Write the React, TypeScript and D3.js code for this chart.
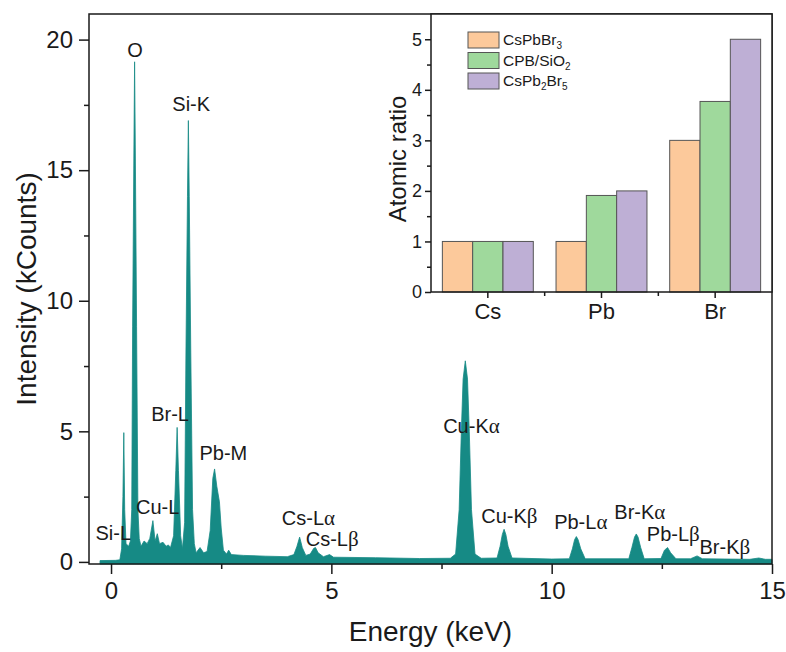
import * as d3 from "d3";
import React, { useEffect, useRef } from "react";

// EDS spectrum (keV, kCounts)
const energy = [
  -0.25, 0.1, 0.2, 0.24, 0.27, 0.29, 0.31, 0.34, 0.4, 0.44, 0.47, 0.49, 0.52,
  0.535, 0.55, 0.58, 0.61, 0.64, 0.68, 0.75, 0.82, 0.88, 0.95, 1.0, 1.05, 1.1,
  1.18, 1.25, 1.3, 1.35, 1.42, 1.47, 1.5, 1.53, 1.58, 1.62, 1.67, 1.7, 1.735,
  1.755, 1.775, 1.81, 1.85, 1.89, 1.93, 2.02, 2.1, 2.18, 2.25, 2.31, 2.35, 2.4,
  2.46, 2.5, 2.55, 2.62, 2.67, 2.73, 3.0, 3.5, 4.0, 4.15, 4.22, 4.28, 4.34,
  4.42, 4.52, 4.6, 4.64, 4.7, 4.82, 4.96, 5.05, 6.0, 7.0, 7.7, 7.82, 7.9, 7.95,
  7.99, 8.04, 8.09, 8.13, 8.18, 8.26, 8.4, 8.76, 8.83, 8.88, 8.92, 8.96, 9.01,
  9.1, 10.0, 10.4, 10.47, 10.52, 10.56, 10.6, 10.66, 10.76, 11.75, 11.82,
  11.88, 11.92, 11.96, 12.02, 12.1, 12.48, 12.56, 12.63, 12.7, 12.82, 13.15,
  13.3, 13.42, 14.5, 14.7, 14.85, 15.0,
];
const counts = [
  0.05, 0.06, 0.08, 0.5, 2.5, 4.95, 2.0, 0.7, 0.6, 0.8, 2.0, 9.0, 16.0, 19.15,
  16.0, 9.0, 2.0, 0.9, 0.6, 0.8, 0.7, 0.9, 1.58, 0.8, 1.08, 0.7, 0.75, 0.6,
  0.65, 0.55, 1.0, 3.5, 5.15, 3.5, 1.0, 0.5, 1.5, 8.0, 14.0, 16.9, 14.0, 8.0,
  2.0, 0.7, 0.35, 0.55, 0.35, 0.4, 1.2, 3.2, 3.56, 2.9, 2.3, 1.3, 0.45, 0.3,
  0.45, 0.28, 0.25, 0.22, 0.2, 0.28, 0.6, 0.95, 0.55, 0.25, 0.3, 0.52, 0.55,
  0.35, 0.2, 0.28, 0.18, 0.16, 0.13, 0.14, 0.3, 2.0, 5.0, 7.0, 7.7, 7.0, 5.0,
  2.0, 0.3, 0.14, 0.15, 0.6, 1.05, 1.25, 1.05, 0.6, 0.15, 0.11, 0.12, 0.5,
  0.85, 0.97, 0.85, 0.5, 0.12, 0.12, 0.55, 0.95, 1.07, 0.95, 0.55, 0.12, 0.13,
  0.45, 0.55, 0.35, 0.12, 0.12, 0.23, 0.12, 0.1, 0.15, 0.1, 0.1,
];

// peak labels: name, greek suffix, anchor (keV, kCounts)
const peakNames = ["Si-L", "O", "Cu-L", "Br-L", "Si-K", "Pb-M", "Cs-L", "Cs-L", "Cu-K", "Cu-K", "Pb-L", "Br-K", "Pb-L", "Br-K"];
const peakGreek = ["", "", "", "", "", "", "α", "β", "α", "β", "α", "α", "β", "β"];
const peakEnergy = [0.05, 0.545, 1.06, 1.34, 1.82, 2.55, 4.48, 5.02, 8.18, 9.04, 10.66, 12.0, 12.76, 13.93];
const peakLevel = [0.84, 19.35, 1.83, 5.38, 17.25, 3.91, 1.42, 0.61, 4.94, 1.48, 1.25, 1.64, 0.8, 0.3];

const xTicks = [0, 5, 10, 15];
const xMinor = [2.5, 7.5, 12.5];
const yTicks = [0, 5, 10, 15, 20];
const yMinor = [2.5, 7.5, 12.5, 17.5];

// inset: atomic ratios
const elements = ["Cs", "Pb", "Br"];
const samples = ["CsPbBr3", "CPB/SiO2", "CsPb2Br5"];
const ratioCsPbBr3 = [1, 1, 3];
const ratioCPBSiO2 = [1, 1.91, 3.77];
const ratioCsPb2Br5 = [1, 2, 5];
const sampleColors = ["#FCC99B", "#9FD99C", "#BEAFD5"];
const sampleLabelParts = [
  [["CsPbBr", 0], ["3", 1]],
  [["CPB/SiO", 0], ["2", 1]],
  [["CsPb", 0], ["2", 1], ["Br", 0], ["5", 1]],
];
const ratioTicks = [0, 1, 2, 3, 4, 5];
const ratioMinor = [0.5, 1.5, 2.5, 3.5, 4.5];

const font = "'Liberation Sans', Arial, sans-serif";
const ink = "#1a1a1a";

export default function App() {
  const ref = useRef<SVGSVGElement>(null);

  useEffect(() => {
    const svg = d3.select(ref.current);
    svg.selectAll("*").remove();

    const left = 89, top = 14, right = 772, bottom = 564;
    const x = d3.scaleLinear().domain([-0.5, 15]).range([left, right]);
    const y = d3.scaleLinear().domain([-0.08, 20.98]).range([bottom, top]);

    // spectrum
    const pts = energy.map((e, i) => [e, counts[i]] as [number, number]);
    const area = d3
      .area<[number, number]>()
      .x(d => x(d[0]))
      .y0(y(-0.08))
      .y1(d => y(d[1]));
    svg
      .append("path")
      .attr("d", area(pts) as string)
      .attr("fill", "#168A85")
      .attr("stroke", "#168A85")
      .attr("stroke-width", 0.8);

    // axes
    const styleAxis = (g: any, size: number) => {
      g.select(".domain").remove();
      g.selectAll("line").attr("stroke", ink).attr("stroke-width", 1.5);
      g.selectAll("text")
        .attr("font-family", font)
        .attr("font-size", size)
        .attr("fill", ink);
    };
    svg
      .append("g")
      .attr("transform", `translate(0,${bottom})`)
      .call(d3.axisBottom(x).tickValues(xTicks).tickSize(10).tickPadding(8).tickFormat(d3.format("d")) as any)
      .call((g: any) => styleAxis(g, 24));
    svg
      .append("g")
      .attr("transform", `translate(0,${bottom})`)
      .call(d3.axisBottom(x).tickValues(xMinor).tickSize(5).tickFormat(() => "") as any)
      .call((g: any) => styleAxis(g, 24));
    svg
      .append("g")
      .attr("transform", `translate(${left},0)`)
      .call(d3.axisLeft(y).tickValues(yTicks).tickSize(10).tickPadding(6).tickFormat(d3.format("d")) as any)
      .call((g: any) => styleAxis(g, 24));
    svg
      .append("g")
      .attr("transform", `translate(${left},0)`)
      .call(d3.axisLeft(y).tickValues(yMinor).tickSize(5).tickFormat(() => "") as any)
      .call((g: any) => styleAxis(g, 24));

    svg
      .append("rect")
      .attr("x", left)
      .attr("y", top)
      .attr("width", right - left)
      .attr("height", bottom - top)
      .attr("fill", "none")
      .attr("stroke", ink)
      .attr("stroke-width", 1.5);

    svg
      .append("text")
      .attr("x", (left + right) / 2)
      .attr("y", 641)
      .attr("text-anchor", "middle")
      .attr("font-family", font)
      .attr("font-size", 28)
      .attr("fill", ink)
      .text("Energy (keV)");
    svg
      .append("text")
      .attr("transform", `translate(36,${(top + bottom) / 2}) rotate(-90)`)
      .attr("text-anchor", "middle")
      .attr("font-family", font)
      .attr("font-size", 28)
      .attr("fill", ink)
      .text("Intensity (kCounts)");

    // peak labels
    peakNames.forEach((name, i) => {
      const t = svg
        .append("text")
        .attr("x", x(peakEnergy[i]))
        .attr("y", y(peakLevel[i]))
        .attr("text-anchor", "middle")
        .attr("font-family", font)
        .attr("font-size", 20)
        .attr("fill", ink);
      t.append("tspan").text(name);
      if (peakGreek[i])
        t.append("tspan").attr("font-family", "'Liberation Serif', serif").attr("font-size", 21).text(peakGreek[i]);
    });

    // inset
    const iL = 431, iT = 14, iR = 772, iB = 292;
    const xb = d3.scaleBand().domain(elements).range([iL, iR]).paddingInner(0.2).paddingOuter(0.1);
    const xs = d3.scaleBand().domain(samples).range([0, xb.bandwidth()]);
    const yr = d3.scaleLinear().domain([0, 5.5]).range([iB, iT]);
    const ratios = [ratioCsPbBr3, ratioCPBSiO2, ratioCsPb2Br5];

    svg
      .append("rect")
      .attr("x", iL)
      .attr("y", iT)
      .attr("width", iR - iL)
      .attr("height", iB - iT)
      .attr("fill", "#fff");

    elements.forEach((el, i) => {
      samples.forEach((s, j) => {
        svg
          .append("rect")
          .attr("x", (xb(el) as number) + (xs(s) as number))
          .attr("y", yr(ratios[j][i]))
          .attr("width", xs.bandwidth())
          .attr("height", yr(0) - yr(ratios[j][i]))
          .attr("fill", sampleColors[j])
          .attr("stroke", "#555")
          .attr("stroke-width", 1);
      });
    });

    svg
      .append("g")
      .attr("transform", `translate(${iL},0)`)
      .call(d3.axisLeft(yr).tickValues(ratioTicks).tickSize(6).tickPadding(3).tickFormat(d3.format("d")) as any)
      .call((g: any) => styleAxis(g, 18));
    svg
      .append("g")
      .attr("transform", `translate(${iL},0)`)
      .call(d3.axisLeft(yr).tickValues(ratioMinor).tickSize(4).tickFormat(() => "") as any)
      .call((g: any) => styleAxis(g, 18));
    svg
      .append("g")
      .attr("transform", `translate(0,${iB})`)
      .call(d3.axisBottom(xb).tickSize(6).tickPadding(5) as any)
      .call((g: any) => styleAxis(g, 22));
    const gaps = elements.slice(1).map((el, i) => ((xb(elements[i]) as number) + xb.bandwidth() + (xb(el) as number)) / 2);
    gaps.forEach(gx => {
      svg
        .append("line")
        .attr("x1", gx)
        .attr("x2", gx)
        .attr("y1", iB)
        .attr("y2", iB + 4)
        .attr("stroke", ink)
        .attr("stroke-width", 1.5);
    });

    svg
      .append("rect")
      .attr("x", iL)
      .attr("y", iT)
      .attr("width", iR - iL)
      .attr("height", iB - iT)
      .attr("fill", "none")
      .attr("stroke", ink)
      .attr("stroke-width", 1.5);

    svg
      .append("text")
      .attr("transform", `translate(406,${(iT + iB) / 2 + 6}) rotate(-90)`)
      .attr("text-anchor", "middle")
      .attr("font-family", font)
      .attr("font-size", 24)
      .attr("fill", ink)
      .text("Atomic ratio");

    // legend
    samples.forEach((s, j) => {
      const ly = 32 + j * 20.5;
      svg
        .append("rect")
        .attr("x", 468)
        .attr("y", ly)
        .attr("width", 31)
        .attr("height", 16)
        .attr("fill", sampleColors[j])
        .attr("stroke", "#555")
        .attr("stroke-width", 1);
      const t = svg
        .append("text")
        .attr("x", 503)
        .attr("y", ly + 13)
        .attr("font-family", font)
        .attr("font-size", 15.5)
        .attr("fill", ink);
      let shifted = false;
      (sampleLabelParts[j] as [string, number][]).forEach(([txt, sub]) => {
        const sp = t.append("tspan").text(txt);
        if (sub && !shifted) {
          sp.attr("font-size", 10).attr("dy", 4);
          shifted = true;
        } else if (!sub && shifted) {
          sp.attr("dy", -4);
          shifted = false;
        }
      });
    });
  }, []);

  return (
    <svg
      ref={ref}
      width={786}
      height={652}
      style={{ position: "absolute", left: 0, top: 0, background: "#fff" }}
    />
  );
}
